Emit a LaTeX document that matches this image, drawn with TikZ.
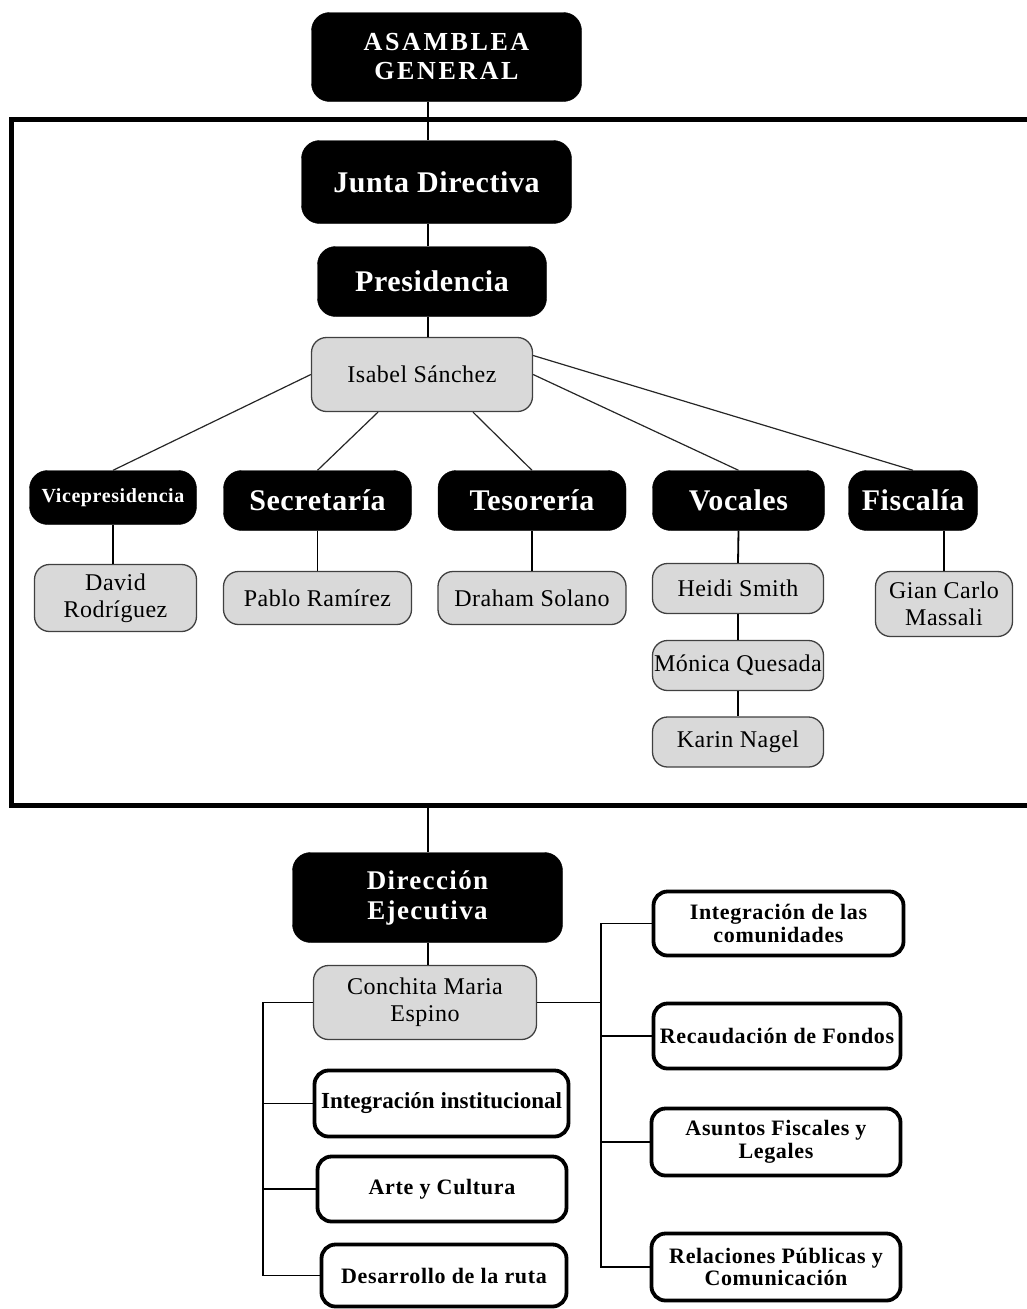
\documentclass[tikz,border=0pt]{standalone}
\usepackage{fontspec}
\setmainfont{Liberation Serif}
\usetikzlibrary{positioning,calc}
\tikzstyle{block}=[align=center, rectangle, inner sep=0pt]
\tikzstyle{head box}=[block, fill=black, draw=black, text=white, rounded corners=18pt]
\tikzstyle{member box}=[block, draw=black!75, line width=1.3pt, fill=black!15, rounded corners=15pt,
  font=\fontsize{24}{27}\selectfont\addfontfeature{LetterSpace=2}]
\tikzstyle{area box}=[block, draw=black, line width=3.8pt, fill=white, rounded corners=14pt,
  font=\fontsize{22}{22.5}\selectfont\bfseries\addfontfeature{LetterSpace=3}]
\tikzstyle{big head}=[font=\fontsize{30}{33}\selectfont\bfseries\addfontfeature{LetterSpace=2}]
\tikzstyle{wide head}=[font=\fontsize{26}{29}\selectfont\bfseries\addfontfeature{LetterSpace=10}]
\tikzstyle{small head}=[font=\fontsize{20}{22}\selectfont\bfseries\addfontfeature{LetterSpace=3}]
\tikzstyle{board frame}=[rectangle, draw=black, line width=5pt, inner sep=0pt]
\tikzstyle{my line}=[draw=black, line width=1.8pt]
\tikzstyle{thin line}=[draw=black!85, line width=1.2pt]

\begin{document}
\begin{tikzpicture}[x=1pt,y=-1pt]
\useasboundingbox (0,0) rectangle (1026,1309);
\coordinate (spine) at (428,0);

% junta directiva area
\draw (528,462) node[board frame, minimum width=1034pt, minimum height=686pt] (board) {};

\draw (446.5,57) node[head box, wide head, minimum width=270pt, minimum height=89pt] (asamblea)
{ASAMBLEA\\GENERAL};
\draw (asamblea) ++(-10,125) node[head box, big head, minimum width=270pt, minimum height=83pt] (junta)
{Junta Directiva};
\draw (junta) ++(-4.5,99.5) node[head box, big head, minimum width=229pt, minimum height=70pt] (pres)
{Presidencia};
\draw (pres) ++(-10,93) node[member box, minimum width=221pt, minimum height=74pt] (isabel)
{Isabel S\'anchez};

\draw (isabel) ++(-104.5,126) node[head box, big head, minimum width=188pt, minimum height=60pt] (secre)
{Secretar\'ia};
\draw (secre) ++(-204.5,-3) node[head box, small head, minimum width=167pt, minimum height=54pt] (vice)
{Vicepresidencia};
\draw (secre) ++(214.5,0) node[head box, big head, minimum width=188pt, minimum height=60pt] (teso)
{Tesorer\'ia};
\draw (teso) ++(206.5,0) node[head box, big head, minimum width=172pt, minimum height=60pt] (vocal)
{Vocales};
\draw (vocal) ++(174.5,0) node[head box, big head, minimum width=129pt, minimum height=60pt] (fisca)
{Fiscal\'ia};

\draw (vice) ++(2.5,100.5) node[member box, minimum width=162pt, minimum height=67pt] (david)
{David\\Rodr\'iguez};
\draw (secre) ++(0,97.5) node[member box, minimum width=188pt, minimum height=53pt] (pablo)
{Pablo Ram\'irez};
\draw (teso) ++(0,97.5) node[member box, minimum width=188pt, minimum height=53pt] (draham)
{Draham Solano};
\draw (vocal) ++(-0.5,88) node[member box, minimum width=171pt, minimum height=50pt] (heidi)
{Heidi Smith};
\draw (heidi) ++(0,77) node[member box, minimum width=171pt, minimum height=50pt] (monica)
{M\'onica Quesada};
\draw (monica) ++(0,76.5) node[member box, minimum width=171pt, minimum height=50pt] (karin)
{Karin Nagel};
\draw (fisca) ++(31,103.5) node[member box, minimum width=137pt, minimum height=65pt] (gian)
{Gian Carlo\\Massali};

% direccion ejecutiva
\draw (isabel) ++(5.5,523) node[head box, font=\fontsize{27}{30}\selectfont\bfseries\addfontfeature{LetterSpace=5},
  minimum width=270pt, minimum height=90pt] (direc) {Direcci\'on\\Ejecutiva};
\draw (direc) ++(-2.5,105) node[member box, minimum width=223pt, minimum height=74pt] (conchita)
{Conchita Maria\\Espino};

\draw (conchita) ++(353.5,-79) node[area box, minimum width=250pt, minimum height=64pt] (comun)
{Integraci\'on de las\\comunidades};
\draw (comun) ++(-1.5,112.5) node[area box, minimum width=247pt, minimum height=65pt] (recau)
{Recaudaci\'on de Fondos};
\draw (recau) ++(-1,106) node[area box, minimum width=249pt, minimum height=67pt] (asuntos)
{Asuntos Fiscales y\\Legales};
\draw (asuntos) ++(0,125) node[area box, minimum width=249pt, minimum height=67pt] (relac)
{Relaciones P\'ublicas y\\Comunicaci\'on};

\draw (conchita) ++(16.5,101) node[area box, font=\fontsize{23}{24}\selectfont\bfseries, minimum width=254pt, minimum height=66pt] (inst)
{Integraci\'on institucional};
\draw (inst) ++(0.5,85.5) node[area box, minimum width=249pt, minimum height=65pt] (arte)
{Arte y Cultura};
\draw (arte) ++(2,86.5) node[area box, minimum width=245pt, minimum height=62pt] (desa)
{Desarrollo de la ruta};

% connectors
\draw[my line] (asamblea.south -| spine) -- (junta.north -| spine);
\draw[my line] (junta.south -| spine) -- (pres.north -| spine);
\draw[my line] (pres.south -| spine) -- (isabel.north -| spine);

\draw[thin line] (isabel.west) -- (vice.north);
\draw[thin line] ([xshift=-44pt]isabel.south) -- (secre.north);
\draw[thin line] ([xshift=51pt]isabel.south) -- (teso.north);
\draw[thin line] (isabel.east) -- (vocal.north);
\draw[thin line] ([yshift=19pt]isabel.east) -- (fisca.north);

\draw[my line] (vice.south) -- (vice.south |- david.north);
\draw[my line] (secre) -- (pablo);
\draw[my line] (teso) -- (draham);
\draw[my line] (vocal.south) -- (heidi.north);
\draw[my line] (heidi.south) -- (monica.north);
\draw[my line] (monica.south) -- (karin.north);
\draw[my line] (gian.north) -- (gian.north |- fisca.south);

\draw[my line] (board.south -| spine) -- (direc.north -| spine);
\draw[my line] (direc.south -| spine) -- (conchita.north -| spine);

\coordinate (rbus) at (601,0);
\coordinate (lbus) at (263,0);
\draw[my line] (comun.west) -| (relac.west -| rbus) -- (relac.west);
\draw[my line] (conchita.east) -- (conchita.east -| rbus);
\foreach \n in {recau,asuntos}
  \draw[my line] (\n.west) -- (\n.west -| rbus);
\draw[my line] (conchita.west) -| (desa.west -| lbus) -- (desa.west);
\foreach \n in {inst,arte}
  \draw[my line] (\n.west) -- (\n.west -| lbus);

\end{tikzpicture}
\end{document}
